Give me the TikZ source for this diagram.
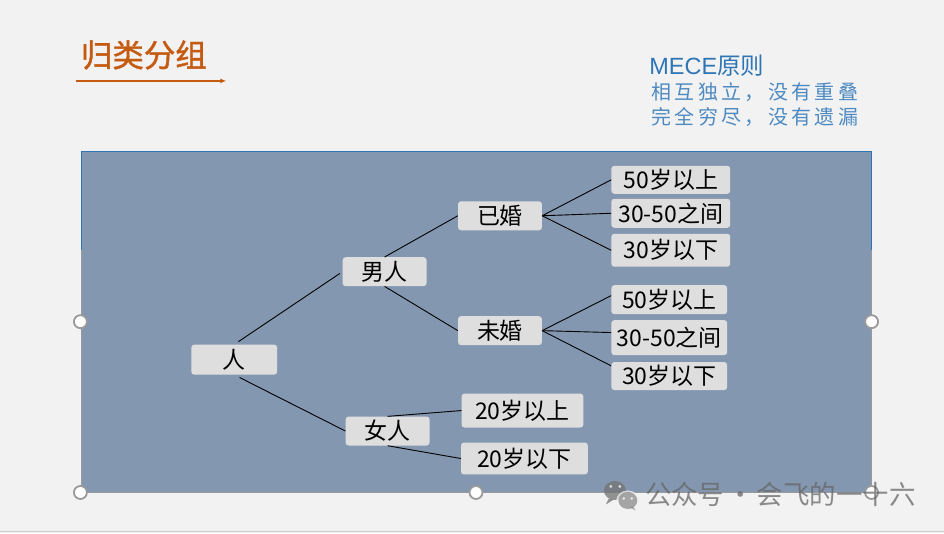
\documentclass[tikz,border=0pt]{standalone}
\usepackage{fontspec}
\setmainfont{Noto Sans CJK SC}
\newfontfamily\mecefont[LetterSpace=17]{Noto Sans CJK SC}
\newfontfamily\titlefont[FakeBold=1.3]{Noto Sans CJK SC}
\newfontfamily\latinfont{Liberation Sans}
\usetikzlibrary{arrows.meta}
\definecolor{pagegray}{HTML}{F2F2F2}
\definecolor{panel}{HTML}{8497B0}
\definecolor{boxgray}{HTML}{DEDEDE}
\definecolor{titleorange}{HTML}{C55A11}
\definecolor{meceblue}{HTML}{2E75B6}
\definecolor{handlegray}{HTML}{9A9A9A}

\begin{document}
\begin{tikzpicture}[x=1pt,y=-1pt,
    box/.style={fill=boxgray, rounded corners=3pt, inner sep=0pt, minimum height=29pt,
      font=\fontsize{23}{23}\selectfont},
    link/.style={black, line width=0.9pt},
    handle/.style={circle, fill=white, draw=handlegray, line width=1.8pt, minimum size=13pt, inner sep=0pt}]
  \fill[pagegray] (0,0) rectangle (944,534);
  \draw[black!20, line width=1pt] (0,532) -- (944,532);
  \fill[panel] (81,152) rectangle (872,493);
  \draw[meceblue, line width=0.8pt] (81,250) -- (81,152) -- (872,152) -- (872,250);
  \draw[handlegray, line width=1.2pt] (81,250) -- (81,493) -- (872,493) -- (872,250);

  \node[anchor=west, text=titleorange, font=\titlefont\fontsize{31.5}{31.5}\selectfont] (title) at (77,55) {归类分组};
  \coordinate (ul0) at (76,81);
  \coordinate (ul1) at (226,81);
  \draw[titleorange, line width=1.2pt, -{Latex[length=6pt,width=5pt]}] (ul0) -- (ul1);

  \node[anchor=west, text=meceblue, font=\fontsize{23.5}{23.5}\selectfont] (mece) at (646,66) {{\latinfont MECE}原则};
  \node[anchor=west, text=meceblue!85, font=\mecefont\fontsize{20}{20}\selectfont] (rule1) at (648,92) {相互独立，没有重叠};
  \node[anchor=west, text=meceblue!85, font=\mecefont\fontsize{20}{20}\selectfont] (rule2) at (648,117) {完全穷尽，没有遗漏};

  \node[box, minimum width=86pt, minimum height=30pt] (ren) at (234,360) {人};
  \node[box, minimum width=84pt] (nan) at (384.5,272) {男人};
  \node[box, minimum width=84pt] (nv) at (387.5,431.5) {女人};
  \node[box, minimum width=84pt] (yh) at (500,216) {已婚};
  \node[box, minimum width=84pt] (wh) at (500,331) {未婚};
  \node[box, minimum width=119pt, minimum height=28pt] (yh1) at (671,180) {50岁以上};
  \node[box, minimum width=119pt] (yh2) at (671,213.5) {30-50之间};
  \node[box, minimum width=119pt, minimum height=33pt] (yh3) at (671,250.5) {30岁以下};
  \node[box, minimum width=116pt] (wh1) at (669.5,300) {50岁以上};
  \node[box, minimum width=116pt, minimum height=35pt] (wh2) at (669.5,338) {30-50之间};
  \node[box, minimum width=116pt, minimum height=28pt] (wh3) at (669.5,376.5) {30岁以下};
  \node[box, minimum width=122pt, minimum height=34pt] (a20) at (522.5,411) {20岁以上};
  \node[box, minimum width=127pt, minimum height=32pt] (b20) at (524.5,459) {20岁以下};

  \draw[link, shorten <=5pt, shorten >=3pt] (ren.north) -- (nan.west);
  \draw[link, shorten <=6pt] (ren.south) -- (nv.west);
  \draw[link] (nan.north) -- (yh.west);
  \draw[link] (nan.south) -- (wh.west);
  \foreach \c in {yh1,yh2,yh3}
    \draw[link] (yh.east) -- (\c.west);
  \draw[link] (wh.east) -- (wh1.176);
  \draw[link] (wh.east) -- (wh2.175);
  \draw[link] (wh.east) -- (wh3.170);
  \draw[link] (nv.north) -- (a20.west);
  \draw[link] (nv.south) -- (b20.west);

  \foreach \p in {(80,322),(872,322),(80,493),(476,493),(872,493)}
    \node[handle] at \p {};

  \begin{scope}[opacity=0.75]
    \fill[black!55] (615,491) ellipse (11 and 9.5);
    \fill[black!55] (609,499) -- (606,505) -- (614,500) -- cycle;
    \fill[pagegray] (628,501) ellipse (11.5 and 10);
    \fill[black!45] (628,501) ellipse (9.5 and 8.5);
    \fill[black!45] (633,507) -- (636,511) -- (630,508) -- cycle;
    \fill[white] (611,487) circle (1.6) (620,487) circle (1.6) (624,499) circle (1.4) (632,499) circle (1.4);
    \node[anchor=west, text=black!60, font=\fontsize{26.5}{26.5}\selectfont, inner sep=0pt] (wm) at (645,495) {公众号\hspace{3pt}·\hspace{3pt}会飞的一十六};
  \end{scope}
\end{tikzpicture}
\end{document}
